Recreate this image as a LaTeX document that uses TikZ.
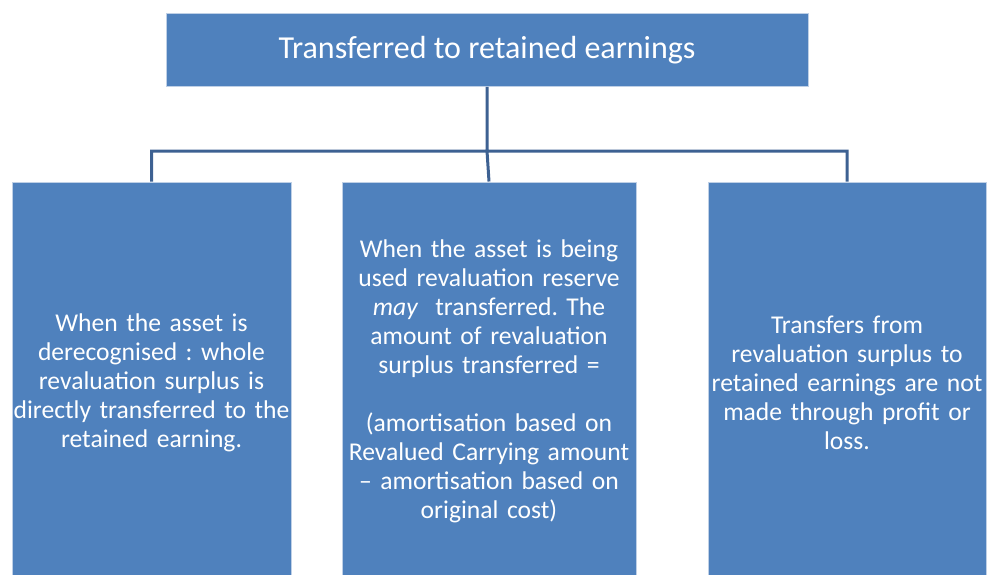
\documentclass[tikz,border=0pt]{standalone}
\usepackage{fontspec}
\setmainfont{Carlito}
\usepackage{xcolor}
\usetikzlibrary{
    calc,
    positioning
}
\definecolor{boxblue}{HTML}{4F81BD}
\definecolor{boxrim}{HTML}{BFD0E6}
\definecolor{linkblue}{HTML}{3D6192}
\tikzset{
    heading/.style={fill=boxblue, draw=boxrim, line width=1pt, text=white,
        minimum width=642pt, minimum height=73pt, inner sep=0pt,
        font=\fontsize{32}{38}\selectfont},
    case/.style={fill=boxblue, draw=boxrim, line width=1pt, text=white,
        align=center, inner sep=0pt, font=\fontsize{25.6}{29}\selectfont},
    link/.style={draw=linkblue, line width=3pt}
}

\begin{document}
\frenchspacing
\begin{tikzpicture}[x=1pt, y=-1pt]
    \useasboundingbox (0, 0) rectangle (987, 575);
    \clip (0, 0) rectangle (987, 575);

    \node[heading] (title) at (487, 50) {Transferred to retained earnings};

    \node[case, minimum width=279pt, minimum height=402pt, text width=279pt]
        (derec) at (151.5, 383)
        {When the asset is\\derecognised : whole\\revaluation surplus is\\directly transferred to the\\retained earning.};
    \node[case, minimum width=294pt, minimum height=398pt, text width=290pt]
        (used) at (489, 381)
        {When the asset is being\\used revaluation reserve\\\textit{may}\ \ transferred. The\\amount of revaluation\\surplus transferred =\\[29pt](amortisation based on\\Revalued Carrying amount\\-- amortisation based on\\original cost)};
    \node[case, minimum width=278pt, minimum height=402pt, text width=278pt]
        (notpl) at (847, 383)
        {Transfers from\\revaluation surplus to\\retained earnings are not\\made through profit or\\loss.};

    \coordinate (fork) at (487, 151);
    \draw[link]
    (title.south) -- (fork) -| (derec.north)
    (fork) -- (used.north)
    (fork) -| (notpl.north);
\end{tikzpicture}
\end{document}
